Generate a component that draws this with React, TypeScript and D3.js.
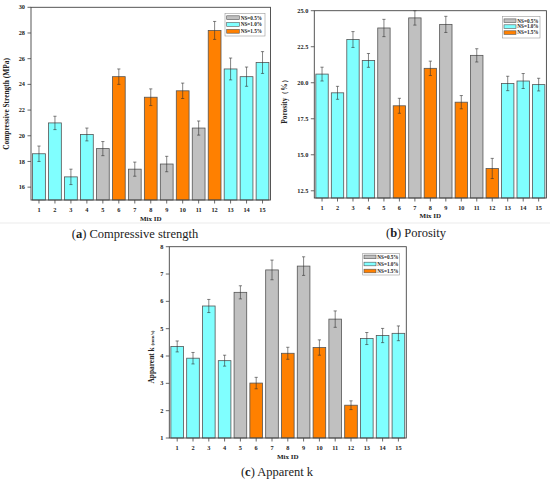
import React from 'react';
import * as d3 from 'd3';

const mixIds = [1, 2, 3, 4, 5, 6, 7, 8, 9, 10, 11, 12, 13, 14, 15];
const nsLevels = ['1.0%', '1.0%', '1.0%', '1.0%', '0.5%', '1.5%', '0.5%', '1.5%', '0.5%', '1.5%', '0.5%', '1.5%', '1.0%', '1.0%', '1.0%'];
const legendKeys = ['0.5%', '1.0%', '1.5%'];
const legendLabels = ['NS=0.5%', 'NS=1.0%', 'NS=1.5%'];
const legendColors = ['#C0C0C0', '#80FFFF', '#FF8000'];

const strengthValues = [18.6, 21.0, 16.8, 20.1, 19.0, 24.6, 17.4, 23.0, 17.8, 23.5, 20.6, 28.2, 25.2, 24.6, 25.7];
const strengthErrors = [0.6, 0.52, 0.6, 0.5, 0.55, 0.6, 0.55, 0.65, 0.6, 0.6, 0.55, 0.7, 0.85, 0.75, 0.85];
const strengthTicks = [16, 18, 20, 22, 24, 26, 28, 30];

const porosityValues = [20.6, 19.3, 23.0, 21.55, 23.8, 18.4, 24.5, 21.0, 24.05, 18.65, 21.9, 14.05, 19.95, 20.12, 19.87];
const porosityErrors = [0.48, 0.45, 0.55, 0.48, 0.6, 0.52, 0.5, 0.5, 0.56, 0.46, 0.46, 0.7, 0.5, 0.52, 0.44];
const porosityTicks = [12.5, 15.0, 17.5, 20.0, 22.5, 25.0];

const kValues = [4.35, 3.92, 5.83, 3.83, 6.33, 3.01, 7.15, 4.1, 7.29, 4.31, 5.35, 2.2, 4.64, 4.75, 4.83];
const kErrors = [0.2, 0.21, 0.24, 0.2, 0.24, 0.21, 0.36, 0.22, 0.34, 0.28, 0.3, 0.16, 0.22, 0.26, 0.27];
const kTicks = [1, 2, 3, 4, 5, 6, 7, 8];

const color = d3.scaleOrdinal<string, string>().domain(legendKeys).range(legendColors);

const FONT = "'Liberation Serif', 'Times New Roman', serif";
const AXIS = '#444';

type Box = { l: number; r: number; t: number; b: number };
type Leg = { x: number; y: number; w: number; h: number; sx: number; sw: number; sh: number; rows: number[]; tx: number };

function Panel(props: {
  values: number[];
  errors: number[];
  yDomain: [number, number];
  yTicks: number[];
  fmt: (v: number) => string;
  box: Box;
  title: React.ReactNode;
  titleX: number;
  titleY: number;
  xTickBase: number;
  mixBase: number;
  leg: Leg;
}) {
  const { values, errors, yDomain, yTicks, fmt, box, title, titleX, titleY, xTickBase, mixBase, leg } = props;
  const x = d3.scaleLinear().domain([0.5, 15.5]).range([box.l, box.r]);
  const y = d3.scaleLinear().domain(yDomain).range([box.b, box.t]);
  const capW = 1.6;
  return (
    <g fontFamily={FONT}>
      {mixIds.map((id, i) => {
        const v = values[i];
        const e = errors[i];
        const x0 = x(id - 0.4);
        const x1 = x(id + 0.4);
        const cx = x(id);
        return (
          <g key={id}>
            <rect x={x0} y={y(v)} width={x1 - x0} height={box.b - y(v)} fill={color(nsLevels[i])} stroke="#555" strokeWidth={0.8} />
            <line x1={cx} x2={cx} y1={y(v + e)} y2={y(v - e)} stroke="#333" strokeWidth={0.6} />
            <line x1={cx - capW} x2={cx + capW} y1={y(v + e)} y2={y(v + e)} stroke="#333" strokeWidth={0.6} />
            <line x1={cx - capW} x2={cx + capW} y1={y(v - e)} y2={y(v - e)} stroke="#333" strokeWidth={0.6} />
          </g>
        );
      })}
      <rect x={box.l} y={box.t} width={box.r - box.l} height={box.b - box.t} fill="none" stroke={AXIS} strokeWidth={0.9} />
      {yTicks.map((t) => (
        <g key={t}>
          <line x1={box.l - 3.5} x2={box.l} y1={y(t)} y2={y(t)} stroke={AXIS} strokeWidth={0.8} />
          <text x={box.l - 6} y={y(t)} dy="0.33em" textAnchor="end" fontSize={6.3} fontWeight="bold" fill="#222">
            {fmt(t)}
          </text>
        </g>
      ))}
      {mixIds.map((id) => (
        <g key={id}>
          <line x1={x(id)} x2={x(id)} y1={box.b} y2={box.b + 3.5} stroke={AXIS} strokeWidth={0.8} />
          <text x={x(id)} y={xTickBase} textAnchor="middle" fontSize={6.3} fontWeight="bold" fill="#222">
            {id}
          </text>
        </g>
      ))}
      <text x={(box.l + box.r) / 2} y={mixBase} textAnchor="middle" fontSize={7} fontWeight="bold" fill="#222">
        Mix ID
      </text>
      <text transform={`translate(${titleX},${titleY}) rotate(-90)`} textAnchor="middle" dy="0.33em" fontSize={7.4} fontWeight="bold" fill="#222">
        {title}
      </text>
      <rect x={leg.x} y={leg.y} width={leg.w} height={leg.h} fill="#fff" stroke="#999" strokeWidth={0.6} />
      {legendLabels.map((lab, i) => (
        <g key={lab}>
          <rect x={leg.sx} y={leg.rows[i] - leg.sh / 2} width={leg.sw} height={leg.sh} fill={legendColors[i]} stroke="#555" strokeWidth={0.6} />
          <text x={leg.tx} y={leg.rows[i]} dy="0.35em" fontSize={5.2} fontWeight="bold" fill="#222">
            {lab}
          </text>
        </g>
      ))}
    </g>
  );
}

export default function App() {
  return (
    <svg width={550} height={483} style={{ position: 'absolute', left: 0, top: 0, background: '#fff' }}>
      <rect x={0} y={0} width={550} height={483} fill="#fff" />
      <line x1={0} x2={550} y1={223} y2={223} stroke="#e6e6e6" strokeWidth={0.8} />
      <Panel
        values={strengthValues}
        errors={strengthErrors}
        yDomain={[15, 30]}
        yTicks={strengthTicks}
        fmt={(v) => String(v)}
        box={{ l: 31, r: 270.5, t: 7.3, b: 200 }}
        title="Compressive Strength (MPa)"
        titleX={7}
        titleY={104}
        xTickBase={212.3}
        mixBase={221}
        leg={{ x: 225, y: 13.3, w: 40, h: 22.7, sx: 226.7, sw: 12.6, sh: 3.8, rows: [17.7, 24.4, 31.3], tx: 240.7 }}
      />
      <Panel
        values={porosityValues}
        errors={porosityErrors}
        yDomain={[12, 25]}
        yTicks={porosityTicks}
        fmt={(v) => v.toFixed(1)}
        box={{ l: 314.3, r: 546.4, t: 10.7, b: 198 }}
        title="Porosity（%）"
        titleX={285}
        titleY={100}
        xTickBase={210}
        mixBase={217.5}
        leg={{ x: 502.5, y: 16.5, w: 37.5, h: 21.5, sx: 504, sw: 12, sh: 3.6, rows: [20.7, 26.6, 32.6], tx: 517.3 }}
      />
      <Panel
        values={kValues}
        errors={kErrors}
        yDomain={[1, 8]}
        yTicks={kTicks}
        fmt={(v) => String(v)}
        box={{ l: 169.3, r: 406.3, t: 246.7, b: 438 }}
        title={
          <>
            Apparent k <tspan fontSize={5}>(mm/s)</tspan>
          </>
        }
        titleX={152}
        titleY={357}
        xTickBase={449.5}
        mixBase={459}
        leg={{ x: 362.7, y: 253.3, w: 36.6, h: 21.7, sx: 364, sw: 12, sh: 3.6, rows: [256.9, 264, 271], tx: 377.3 }}
      />
      <g fontFamily={FONT} fontSize={12.5} fill="#222" textAnchor="middle">
        <text x={135} y={238}>
          (<tspan fontWeight="bold">a</tspan>) Compressive strength
        </text>
        <text x={416} y={237}>
          (<tspan fontWeight="bold">b</tspan>) Porosity
        </text>
        <text x={277} y={476}>
          (<tspan fontWeight="bold">c</tspan>) Apparent k
        </text>
      </g>
    </svg>
  );
}
